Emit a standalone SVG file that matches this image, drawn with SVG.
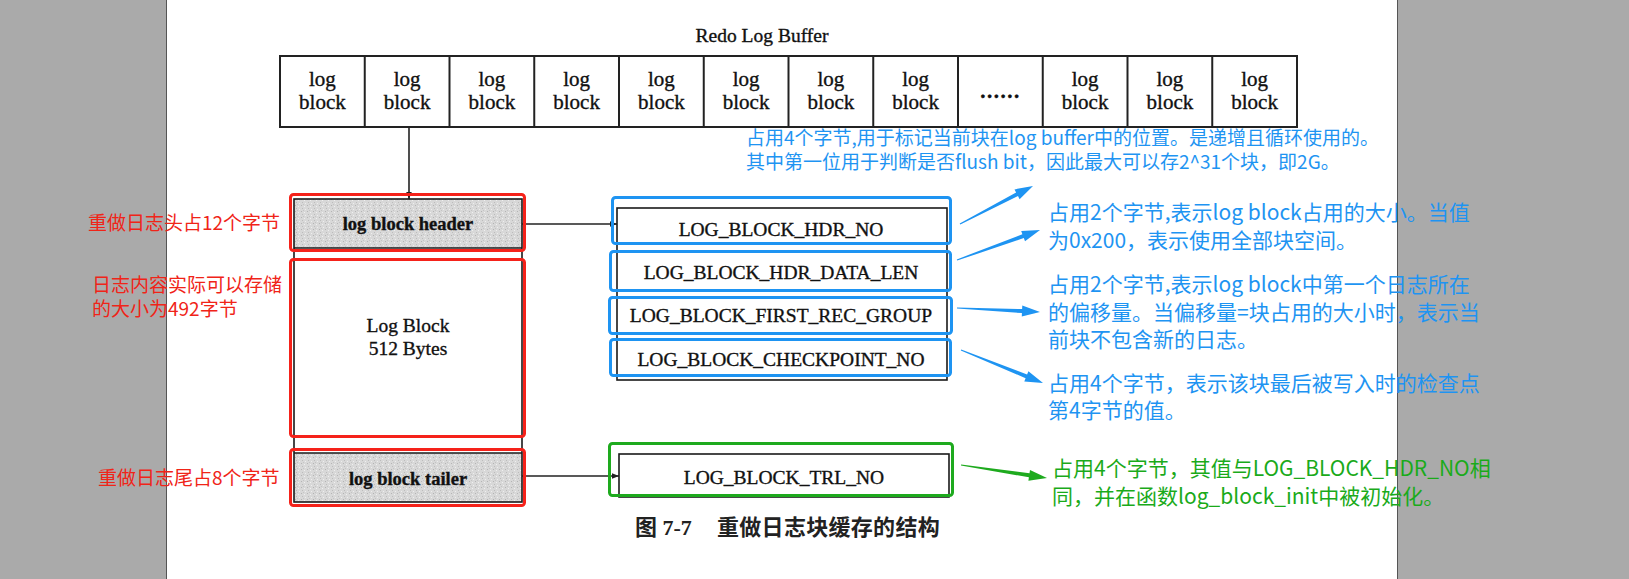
<svg xmlns="http://www.w3.org/2000/svg" width="1629" height="579" viewBox="0 0 1629 579">
<style>
.cell{fill:none;stroke:#222;stroke-width:2}
.bk{fill:none;stroke:#1a1a1a;stroke-width:1.6}
.conn{stroke:#222;stroke-width:1.6;fill:none}
.t-serif{font-family:"Liberation Serif","Times New Roman",serif;fill:#111;text-anchor:middle;stroke:#111;stroke-width:0.35}
.cn{font-family:"Noto Sans CJK SC","Noto Sans",sans-serif}
.red{fill:#f02418}
.blue{fill:#1e94f2}
.green{fill:#1aaa1a}
.rbox{fill:none;stroke:#f5221a;stroke-width:3}
.bbox{fill:none;stroke:#1e94f2;stroke-width:3}
.gbox{fill:none;stroke:#1eaa1e;stroke-width:3}
.barrow{fill:#1e94f2}
.garrow{fill:#1eaa1e}
</style>
<defs>
<pattern id="tex" width="6" height="6" patternUnits="userSpaceOnUse">
<rect width="6" height="6" fill="#d8d8d8"/>
<rect x="1" y="1" width="1" height="1" fill="#b4b4b4"/>
<rect x="4" y="2" width="1" height="1" fill="#f0f0f0"/>
<rect x="2" y="4" width="1" height="1" fill="#bcbcbc"/>
<rect x="5" y="5" width="1" height="1" fill="#eeeeee"/>
<rect x="3" y="0" width="1" height="1" fill="#c4c4c4"/>
</pattern>
<marker id="ah" viewBox="0 0 10 10" refX="10" refY="5" markerWidth="7" markerHeight="7" markerUnits="userSpaceOnUse" orient="auto">
<path d="M0,1 L10,5 L0,9 Z" fill="#222"/>
</marker>
</defs>

<rect x="0" y="0" width="1629" height="579" fill="#aaaaaa"/>
<rect x="166" y="0" width="1231" height="579" fill="#ffffff"/>
<line x1="166.5" y1="0" x2="166.5" y2="579" stroke="#555" stroke-width="1"/>
<line x1="1397.5" y1="0" x2="1397.5" y2="579" stroke="#555" stroke-width="1"/>

<g id="title">
<text class="t-serif" x="762" y="42" font-size="19.5">Redo Log Buffer</text>
</g>

<g id="buffer">
<rect class="cell" x="280" y="56" width="1017" height="71"/>
<g stroke="#222" stroke-width="2">
<line x1="364.75" y1="56" x2="364.75" y2="127"/>
<line x1="449.5" y1="56" x2="449.5" y2="127"/>
<line x1="534.25" y1="56" x2="534.25" y2="127"/>
<line x1="619" y1="56" x2="619" y2="127"/>
<line x1="703.75" y1="56" x2="703.75" y2="127"/>
<line x1="788.5" y1="56" x2="788.5" y2="127"/>
<line x1="873.25" y1="56" x2="873.25" y2="127"/>
<line x1="958" y1="56" x2="958" y2="127"/>
<line x1="1042.75" y1="56" x2="1042.75" y2="127"/>
<line x1="1127.5" y1="56" x2="1127.5" y2="127"/>
<line x1="1212.25" y1="56" x2="1212.25" y2="127"/>
</g>
<g class="t-serif" font-size="21">
<text x="322.4" y="86">log</text><text x="322.4" y="109">block</text>
<text x="407.1" y="86">log</text><text x="407.1" y="109">block</text>
<text x="491.9" y="86">log</text><text x="491.9" y="109">block</text>
<text x="576.6" y="86">log</text><text x="576.6" y="109">block</text>
<text x="661.4" y="86">log</text><text x="661.4" y="109">block</text>
<text x="746.1" y="86">log</text><text x="746.1" y="109">block</text>
<text x="830.9" y="86">log</text><text x="830.9" y="109">block</text>
<text x="915.6" y="86">log</text><text x="915.6" y="109">block</text>
<text x="1000.4" y="98" letter-spacing="1.5" font-weight="bold">......</text>
<text x="1085.1" y="86">log</text><text x="1085.1" y="109">block</text>
<text x="1169.9" y="86">log</text><text x="1169.9" y="109">block</text>
<text x="1254.6" y="86">log</text><text x="1254.6" y="109">block</text>
</g>
</g>

<g id="logblock">
<rect x="294" y="199" width="228" height="49" fill="url(#tex)"/>
<rect x="294" y="453" width="228" height="49" fill="url(#tex)"/>
<rect class="bk" x="294" y="199" width="228" height="303"/>
<line class="bk" x1="294" y1="248" x2="522" y2="248"/>
<line class="bk" x1="294" y1="453" x2="522" y2="453"/>
<text class="t-serif" x="408" y="230" font-size="18.5" font-weight="bold">log block header</text>
<text class="t-serif" x="408" y="332" font-size="19.5">Log Block</text>
<text class="t-serif" x="408" y="355" font-size="19.5">512 Bytes</text>
<text class="t-serif" x="408" y="485" font-size="18.5" font-weight="bold">log block tailer</text>
</g>

<g id="fields">
<rect class="bk" x="617" y="208" width="330" height="172" fill="#fff"/>
<text class="t-serif" x="781" y="236" font-size="19.5">LOG_BLOCK_HDR_NO</text>
<text class="t-serif" x="781" y="279" font-size="19.5">LOG_BLOCK_HDR_DATA_LEN</text>
<text class="t-serif" x="781" y="322" font-size="19.5">LOG_BLOCK_FIRST_REC_GROUP</text>
<text class="t-serif" x="781" y="366" font-size="19.5">LOG_BLOCK_CHECKPOINT_NO</text>
</g>

<g id="trailer-field">
<rect class="bk" x="619" y="454" width="330" height="43" fill="#fff"/>
<text class="t-serif" x="784" y="484" font-size="19.5">LOG_BLOCK_TRL_NO</text>
</g>

<g id="connectors">
<line class="conn" x1="409" y1="127" x2="409" y2="199" marker-end="url(#ah)"/>
<line class="conn" x1="522" y1="224" x2="617" y2="224" marker-end="url(#ah)"/>
<line class="conn" x1="522" y1="476" x2="619" y2="476" marker-end="url(#ah)"/>
<polygon class="barrow" points="960.3,224.5 1018.0,196.1 1019.6,199.2 1033,186 1014.5,189.4 1016.1,192.6 959.7,223.5"/>
<polygon class="barrow" points="957.2,260.6 1023.8,238.0 1025.0,241.3 1040,230 1021.2,231.0 1022.4,234.2 956.8,259.4"/>
<polygon class="barrow" points="957.0,308.6 1021.9,313.1 1021.8,316.6 1040,312 1022.3,305.6 1022.1,309.1 957.0,307.4"/>
<polygon class="barrow" points="960.8,350.6 1025.6,378.2 1024.3,381.4 1043,383 1028.4,371.2 1027.1,374.4 961.2,349.4"/>
<polygon class="garrow" points="960.9,465.6 1028.9,477.3 1028.4,480.8 1047,478 1030.0,469.9 1029.5,473.3 961.1,464.4"/>
</g>

<g id="highlights">
<rect class="rbox" x="290.5" y="194.5" width="234" height="56" rx="3"/>
<rect class="rbox" x="290.5" y="259.5" width="234" height="177" rx="3"/>
<rect class="rbox" x="290.5" y="449.5" width="234" height="56" rx="3"/>
<rect class="bbox" x="612.5" y="197.5" width="338" height="46" rx="3"/>
<rect class="bbox" x="610.5" y="251.5" width="340" height="39" rx="3"/>
<rect class="bbox" x="609.5" y="297.5" width="342" height="36" rx="3"/>
<rect class="bbox" x="610.5" y="339.5" width="340" height="36" rx="3"/>
<rect class="gbox" x="609.5" y="443.5" width="343" height="52" rx="3"/>
</g>

<g id="red-notes" class="cn red" font-size="19">
<text x="88" y="230">重做日志头占12个字节</text>
<text x="92" y="292">日志内容实际可以存储</text>
<text x="92" y="316">的大小为492字节</text>
<text x="98" y="485">重做日志尾占8个字节</text>
</g>

<g id="note-hdr-no" class="cn blue" font-size="19">
<text x="746" y="145">占用4个字节,用于标记当前块在log buffer中的位置。是递增且循环使用的。</text>
<text x="746" y="169">其中第一位用于判断是否flush bit，因此最大可以存2^31个块，即2G。</text>
</g>
<g id="note-data-len" class="cn blue" font-size="21">
<text x="1048" y="220">占用2个字节,表示log block占用的大小。当值</text>
<text x="1048" y="248">为0x200，表示使用全部块空间。</text>
</g>
<g id="note-first-rec" class="cn blue" font-size="21">
<text x="1048" y="292">占用2个字节,表示log block中第一个日志所在</text>
<text x="1048" y="320">的偏移量。当偏移量=块占用的大小时，表示当</text>
<text x="1048" y="347">前块不包含新的日志。</text>
</g>
<g id="note-checkpoint" class="cn blue" font-size="21">
<text x="1048" y="391">占用4个字节，表示该块最后被写入时的检查点</text>
<text x="1048" y="418">第4字节的值。</text>
</g>
<g id="note-trl" class="cn green" font-size="21">
<text x="1052" y="476">占用4个字节，其值与LOG_BLOCK_HDR_NO相</text>
<text x="1052" y="504">同，并在函数log_block_init中被初始化。</text>
</g>

<g id="caption">
<text font-family="'Liberation Serif','Noto Sans CJK SC',serif" font-size="22" font-weight="bold" fill="#222" y="535"><tspan x="635">图 7-7</tspan><tspan x="717" letter-spacing="0.3">重做日志块缓存的结构</tspan></text>
</g>
</svg>
